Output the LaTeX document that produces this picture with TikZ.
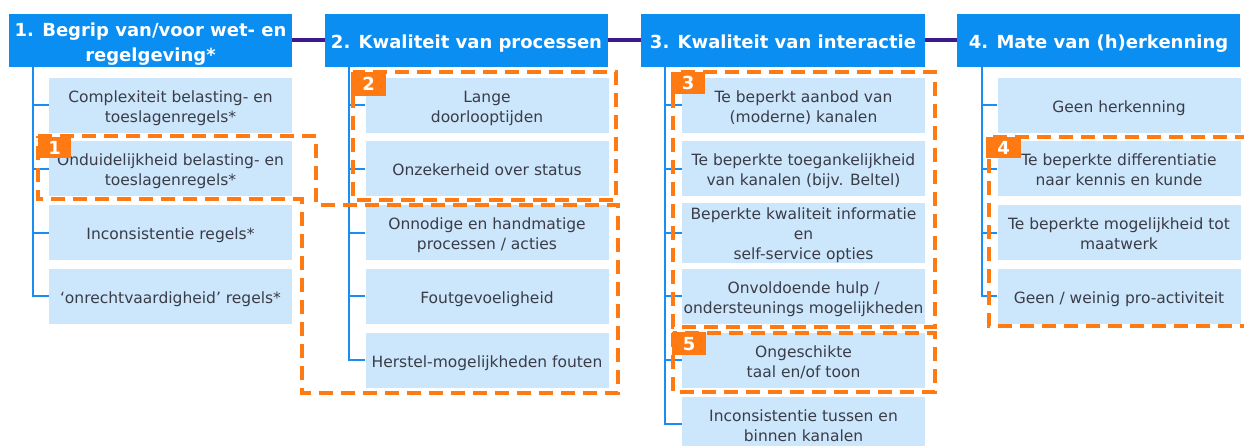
\documentclass[tikz,border=0pt]{standalone}
\usepackage{fontspec}
\setmainfont{DejaVu Sans}
\definecolor{hdr}{HTML}{0A8EF2}
\definecolor{item}{HTML}{CCE6FB}
\definecolor{itxt}{HTML}{3A3C48}
\definecolor{orng}{HTML}{FF7A12}
\definecolor{bline}{HTML}{1A8CF5}
\definecolor{purp}{HTML}{3D1A8C}
\newcommand\lowtext[1]{\raisebox{-3pt}[\height][\depth]{\begin{tabular}{@{}c@{}}#1\end{tabular}}}
\begin{document}
\begin{tikzpicture}[x=1pt,y=-1pt,
  header/.style={fill=hdr,text=white,font=\fontsize{18}{25}\selectfont\bfseries,inner sep=0pt,minimum height=53pt},
  itembox/.style={fill=item,text=itxt,font=\fontsize{15.5}{20}\selectfont,inner sep=0pt,minimum width=243pt,minimum height=55pt},
  branch/.style={draw=bline,line width=2pt},
  group/.style={draw=orng,line width=3.5pt,dash pattern=on 14pt off 8pt},
  tag/.style={fill=orng,text=white,font=\fontsize{18}{18}\selectfont\bfseries,inner sep=0pt,anchor=north west}]
\useasboundingbox[fill=white] (0,0) rectangle (1244,445);
% purple connector
\coordinate (p1) at (292,40);
\coordinate (p4) at (957,40);
\draw[purp,line width=4pt] (p1) -- (p4);
% headers
\node[header,minimum width=283pt] (h1) at (150.5,40.5) {\lowtext{1. Begrip van/voor wet- en\\regelgeving*}};
\node[header,minimum width=283pt] (h2) at (466.5,40.5) {\lowtext{2. Kwaliteit van processen}};
\node[header,minimum width=284pt] (h3) at (783,40.5) {\lowtext{3. Kwaliteit van interactie}};
\node[header,minimum width=283pt] (h4) at (1098.5,40.5) {\lowtext{4. Mate van (h)erkenning}};
% column 1
\node[itembox] (a1) at (170.5,105) {\lowtext{Complexiteit belasting- en\\toeslagenregels*}};
\node[itembox] (a2) at (170.5,168.5) {\lowtext{Onduidelijkheid belasting- en\\toeslagenregels*}};
\node[itembox] (a3) at (170.5,232.5) {\lowtext{Inconsistentie regels*}};
\node[itembox] (a4) at (170.5,296) {\lowtext{‘onrechtvaardigheid’ regels*}};
% column 2
\node[itembox] (b1) at (487,105) {\lowtext{Lange\\doorlooptijden}};
\node[itembox] (b2) at (487,168.5) {\lowtext{Onzekerheid over status}};
\node[itembox] (b3) at (487,232.5) {\lowtext{Onnodige en handmatige\\processen / acties}};
\node[itembox] (b4) at (487,296) {\lowtext{Foutgevoeligheid}};
\node[itembox] (b5) at (487,360) {\lowtext{Herstel-mogelijkheden fouten}};
% column 3
\node[itembox] (c1) at (803.5,105) {\lowtext{Te beperkt aanbod van\\(moderne) kanalen}};
\node[itembox] (c2) at (803.5,168.5) {\lowtext{Te beperkte toegankelijkheid\\van kanalen (bijv. Beltel)}};
\node[itembox] (c3) at (803.5,232.5) {\lowtext{Beperkte kwaliteit informatie\\en\\self-service opties}};
\node[itembox] (c4) at (803.5,296) {\lowtext{Onvoldoende hulp /\\ondersteunings mogelijkheden}};
\node[itembox] (c5) at (803.5,360) {\lowtext{Ongeschikte\\taal en/of toon}};
\node[itembox] (c6) at (803.5,424) {\lowtext{Inconsistentie tussen en\\binnen kanalen}};
% column 4
\node[itembox] (d1) at (1119,105) {\lowtext{Geen herkenning}};
\node[itembox] (d2) at (1119,168.5) {\lowtext{Te beperkte differentiatie\\naar kennis en kunde}};
\node[itembox] (d3) at (1119,232.5) {\lowtext{Te beperkte mogelijkheid tot\\maatwerk}};
\node[itembox] (d4) at (1119,296) {\lowtext{Geen / weinig pro-activiteit}};
% tree lines
\coordinate (v1) at (33,67);
\coordinate (v2) at (349,67);
\coordinate (v3) at (665,67);
\coordinate (v4) at (982,67);
\draw[branch] (v1) |- (a4.west);
\foreach \n in {a1,a2,a3} \draw[branch] (v1 |- \n.west) -- (\n.west);
\draw[branch] (v2) |- (b5.west);
\foreach \n in {b1,b2,b3,b4} \draw[branch] (v2 |- \n.west) -- (\n.west);
\draw[branch] (v3) |- (c6.west);
\foreach \n in {c1,c2,c3,c4,c5} \draw[branch] (v3 |- \n.west) -- (\n.west);
\draw[branch] (v4) |- (d4.west);
\foreach \n in {d1,d2,d3} \draw[branch] (v4 |- \n.west) -- (\n.west);
% orange groups
\draw[group] (38,136) -- (316,136) -- (316,205) -- (618,205) -- (618,393) -- (302,393) -- (302,199) -- (38,199) -- cycle;
\draw[group] (353,72) rectangle (616,200);
\draw[group] (673,72) rectangle (935,327);
\draw[group] (673,333) rectangle (935,392);
\draw[group] (989,137) rectangle (1260,326);
% tags
\node[tag,minimum width=33pt,minimum height=21pt] (l1) at (38,137) {1};
\node[tag,minimum width=35pt,minimum height=24pt] (l2) at (351,72) {2};
\node[tag,minimum width=34pt,minimum height=22pt] (l3) at (671,72) {3};
\node[tag,minimum width=35pt,minimum height=21pt] (l4) at (986,137) {4};
\node[tag,minimum width=34pt,minimum height=23pt] (l5) at (672,332) {5};
\end{tikzpicture}
\end{document}
